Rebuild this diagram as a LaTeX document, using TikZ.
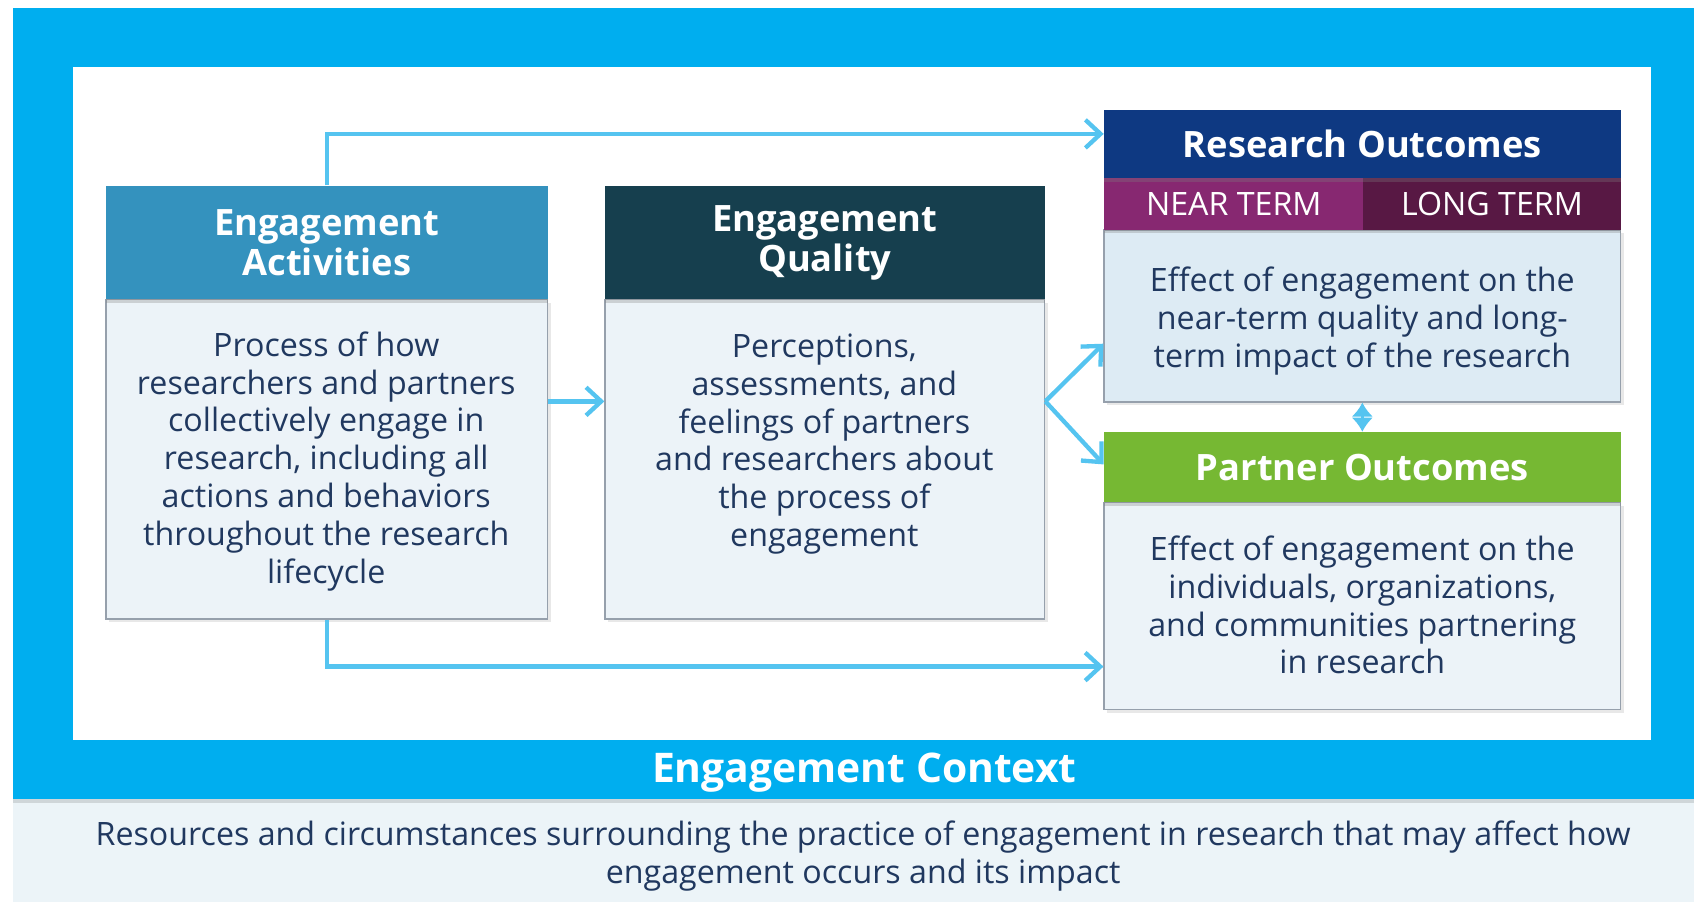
\documentclass[tikz,border=0pt]{standalone}
\usepackage{fontspec}
\setmainfont{Open Sans}
\usetikzlibrary{arrows.meta,calc,shadows,fit}
\definecolor{frameblue}{RGB}{0,174,239}
\definecolor{cAct}{RGB}{52,146,190}
\definecolor{cQual}{RGB}{22,63,78}
\definecolor{cRes}{RGB}{14,57,130}
\definecolor{cNear}{RGB}{135,40,113}
\definecolor{cLong}{RGB}{88,24,68}
\definecolor{cPart}{RGB}{118,184,51}
\definecolor{bodyfill}{RGB}{236,243,248}
\definecolor{resfill}{RGB}{221,235,244}
\definecolor{bordergray}{RGB}{150,160,172}
\definecolor{txt}{RGB}{32,56,95}
\definecolor{arrowblue}{RGB}{85,196,240}
\definecolor{panelfill}{RGB}{236,244,248}
\newcommand{\hdrfont}{\bfseries\fontsize{16.8pt}{18.5pt}\selectfont}
\newcommand{\bodyfont}{\fontsize{14.9pt}{17.5pt}\selectfont}
\tikzset{
  hdr/.style={inner sep=0pt, draw=none,
    drop shadow={opacity=0.3, shadow xshift=0pt, shadow yshift=-1.5pt}},
  hdrtext/.style={inner sep=0pt, text=white, align=center, font=\hdrfont},
  bodybox/.style={inner sep=0pt, draw=bordergray, line width=0.6pt, fill=bodyfill,
    drop shadow={opacity=0.18, shadow xshift=1.5pt, shadow yshift=-1.5pt}},
  bodytext/.style={inner sep=0pt, text=txt, align=center, font=\bodyfont},
  subhdr/.style={inner sep=0pt, draw=none, text=white, font=\fontsize{14.9pt}{16pt}\selectfont},
  conn/.style={draw=arrowblue, line width=2pt, -{Straight Barb[length=7pt,width=13pt]}},
}
\begin{document}
\begin{tikzpicture}[x=0.5pt,y=-0.5pt]
\useasboundingbox (0,0) rectangle (1568,835);
% frame
\fill[frameblue] (12,7) rectangle (1568,740);
\fill[white] (68,62) rectangle (1528,685);
\fill[panelfill] (12,740) rectangle (1568,835);
\fill[black, opacity=0.12] (12,740) rectangle (1568,743);
\node[text=white, font=\bfseries\fontsize{18.9pt}{21pt}\selectfont] (ctx) at (800,715) {Engagement Context};
\node[bodytext] (ctxtext) at (799,792)
  {Resources and circumstances surrounding the practice of engagement in research that may affect how\\engagement occurs and its impact};

% bodies
\node[bodybox, fit={(98,277)(507,573)}] (actb) {};
\node[bodytext] (actt) at (302,427) {Process of how\\researchers and partners\\collectively engage in\\research, including all\\actions and behaviors\\throughout the research\\lifecycle};
\node[bodybox, fit={(560,277)(967,573)}] (qualb) {};
\node[bodytext] (qualt) at (763,411) {Perceptions,\\assessments, and\\feelings of partners\\and researchers about\\the process of\\engagement};
\node[bodybox, fill=resfill, fit={(1022,213)(1500,372)}] (resb) {};
\node[bodytext] (rest) at (1261,297) {Effect of engagement on the\\near-term quality and long-\\term impact of the research};
\node[bodybox, fit={(1022,465)(1500,657)}] (parb) {};
\node[bodytext] (part) at (1261,560) {Effect of engagement on the\\individuals, organizations,\\and communities partnering\\in research};

% headers
\node[hdr, fill=cAct, fit={(98,172)(507,277)}] (acth) {};
\node[hdrtext] (actl) at (acth.center) {Engagement\\Activities};
\node[hdr, fill=cQual, fit={(560,172)(967,277)}] (qualh) {};
\node[hdrtext] (quall) at (qualh.center) {Engagement\\Quality};
\node[hdr, fill=cNear, fit={(1022,165)(1262,213)}] (near) {};
\node[hdr, fill=cLong, fit={(1262,165)(1500,213)}] (long) {};
\node[subhdr] (nearl) at (near.center) {NEAR TERM};
\node[subhdr] (longl) at (long.center) {LONG TERM};
\node[hdr, fill=cRes, fit={(1022,102)(1500,165)}] (resh) {};
\node[hdrtext] (resl) at (resh.center) {Research Outcomes};
\node[hdr, fill=cPart, fit={(1022,400)(1500,465)}] (parh) {};
\node[hdrtext] (parl) at (parh.center) {Partner Outcomes};

% connectors
\coordinate (split) at ($(qualb.north east)!0.32!(qualb.south east)$);
\draw[conn] (acth.north) |- ($(resh.north west)!0.35!(resh.south west)$);
\draw[conn] (actb.south) |- ($(parb.north west)!0.79!(parb.south west)$);
\draw[conn] ($(actb.north east)!0.32!(actb.south east)$) -- ($(qualb.north west)!0.32!(qualb.south west)$);
\draw[conn] (split) -- ($(resb.north west)!0.66!(resb.south west)$);
\draw[conn] (split) -- ($(parh.north west)!0.46!(parh.south west)$);
\draw[draw=arrowblue, line width=1.2pt, {Latex[length=6.5pt,width=10pt]}-{Latex[length=6.5pt,width=10pt]}] (resb.south) -- (parh.north);
\end{tikzpicture}
\end{document}
